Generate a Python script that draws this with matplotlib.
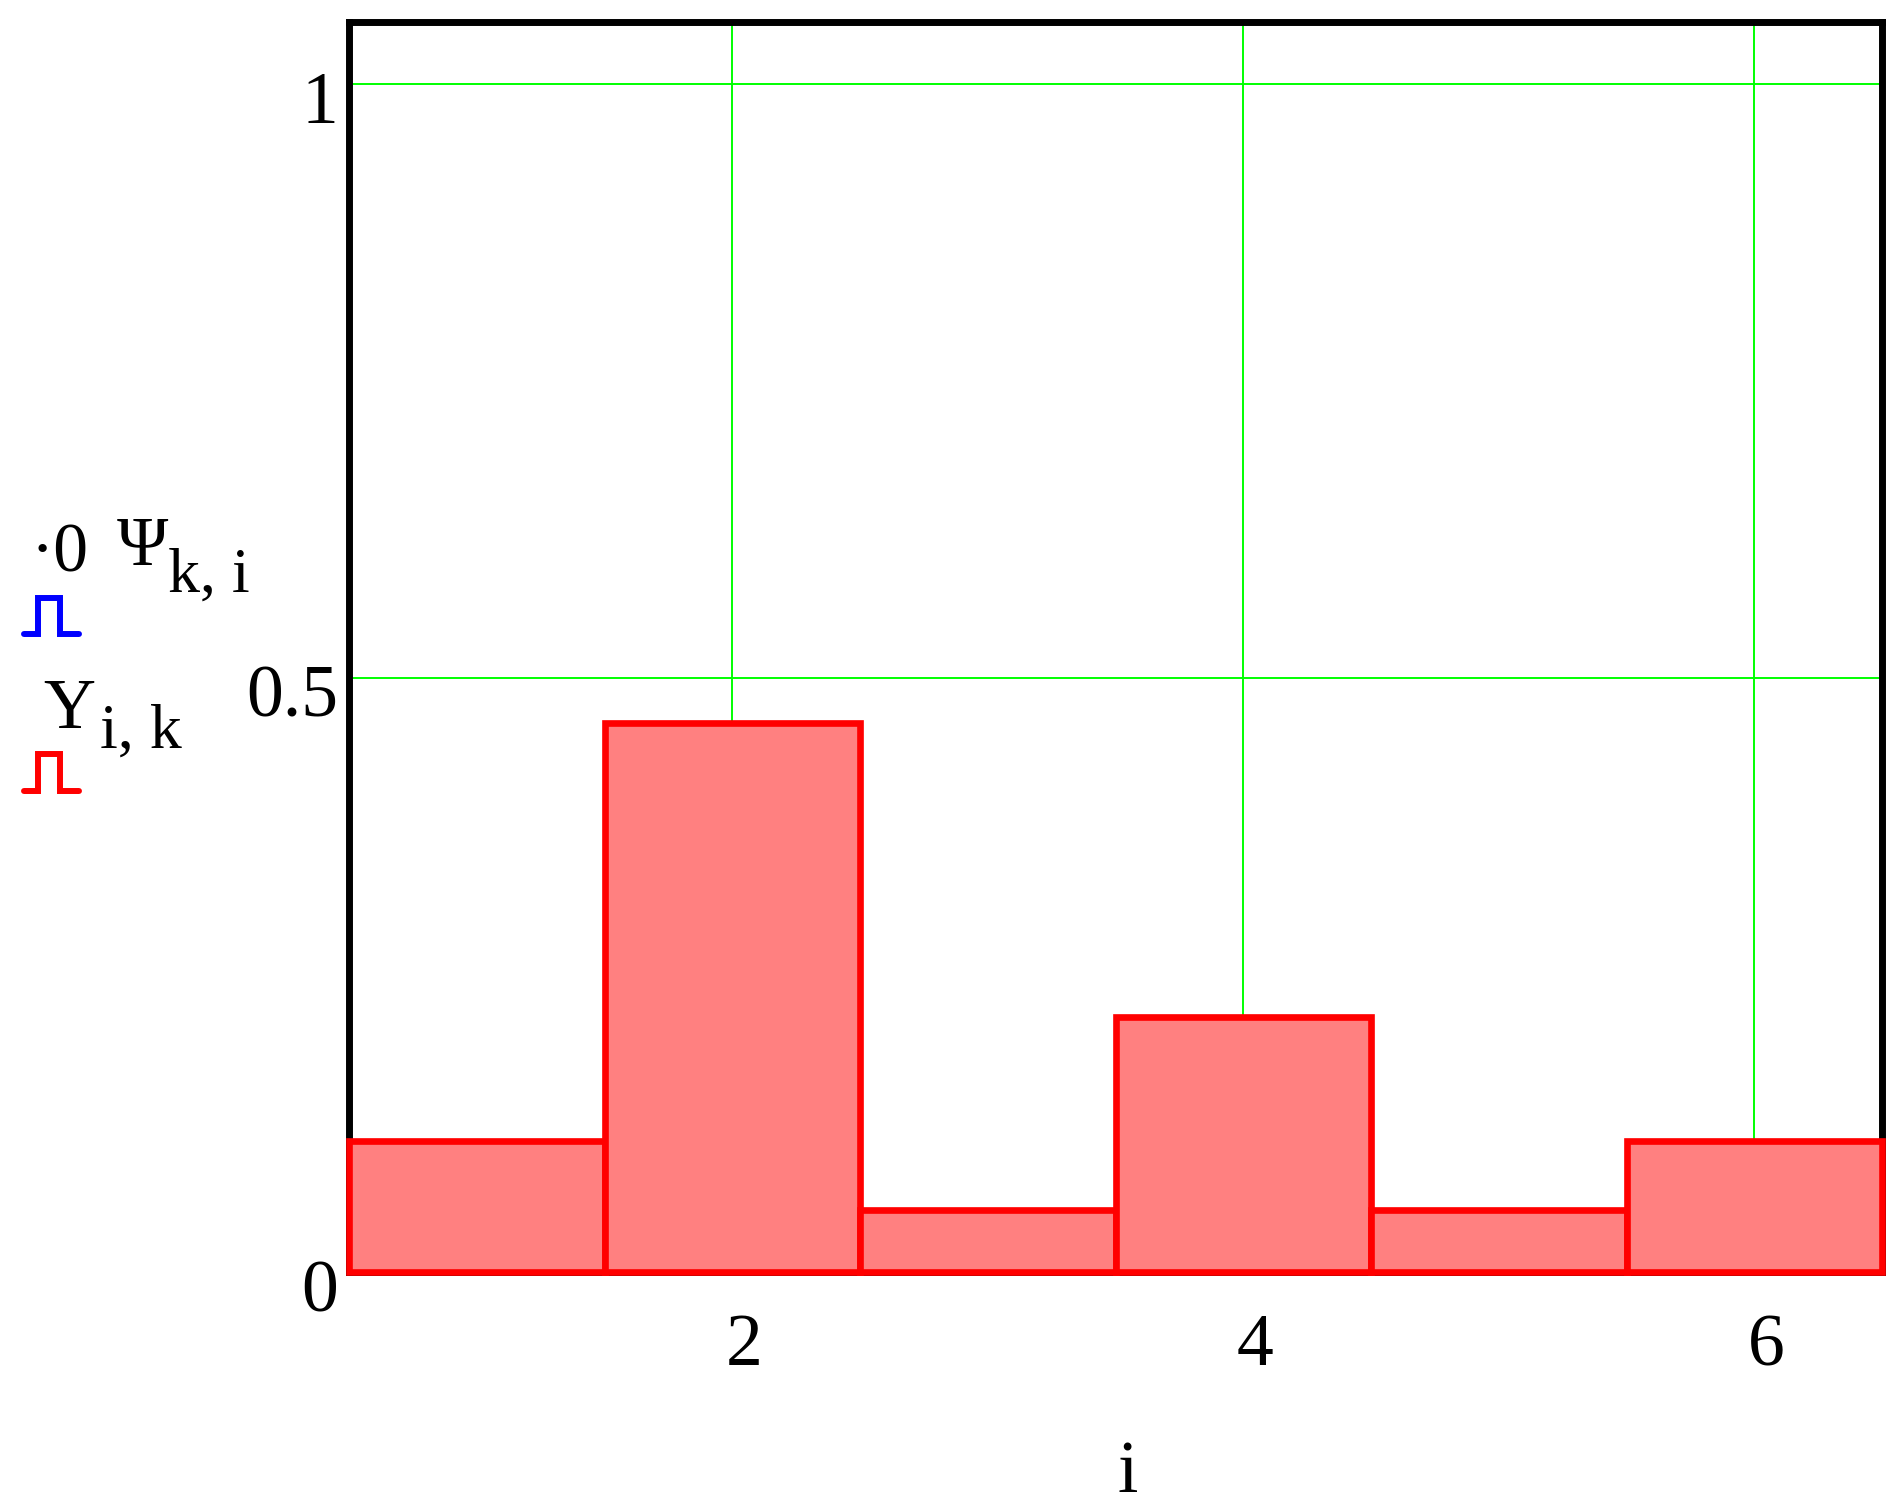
import matplotlib
matplotlib.use('Agg')
import matplotlib.pyplot as plt
from matplotlib.lines import Line2D
from matplotlib.transforms import ScaledTranslation

plt.rcParams['font.family'] = ['Liberation Serif', 'DejaVu Serif']

# data
i_vals = [1, 2, 3, 4, 5, 6]
Y_vals = [0.110, 0.462, 0.052, 0.215, 0.052, 0.110]
x_ticks = [2, 4, 6]
y_ticks = [0, 0.5, 1]
y_tick_labels = ['0', '0.5', '1']

W, H = 1902, 1507


def fx(px):
    return px / W


def fy(py):
    return 1 - py / H


fig = plt.figure(figsize=(W / 100, H / 100), dpi=100)
ax = fig.add_axes([fx(349), fy(1272), fx(1882) - fx(349), fy(21.5) - fy(1272)])

ax.bar(i_vals, Y_vals, width=1.0, color='#ff8080', edgecolor='#ff0000',
       linewidth=4.8, zorder=3, clip_on=False)
ax.set_xlim(0.5, 6.5)
ax.set_ylim(0, 1.0526)
ax.set_xticks(x_ticks)
ax.set_yticks(y_ticks)
ax.set_yticklabels(y_tick_labels)
ax.grid(True, color='#00ff00', linewidth=1.4)
ax.set_axisbelow(True)
for s in ax.spines.values():
    s.set_linewidth(5)
    s.set_color('black')

ax.tick_params(length=0, labelsize=53)
ax.tick_params(axis='x', pad=67)
ax.tick_params(axis='y', pad=8)

for lbl in ax.get_xticklabels():
    lbl.set_va('baseline')
    lbl.set_transform(lbl.get_transform() + ScaledTranslation(0.12, 0, fig.dpi_scale_trans))
for lbl in ax.get_yticklabels():
    lbl.set_va('baseline')
    lbl.set_transform(lbl.get_transform() + ScaledTranslation(0, -0.39, fig.dpi_scale_trans))

# axis title
fig.text(fx(1128), fy(1492), 'i', fontsize=53, ha='center', va='baseline')

# legend on the left, Mathcad style
fig.text(fx(30), fy(572), '·0', fontsize=50, va='baseline')
fig.text(fx(117), fy(565), 'Ψ', fontsize=50, va='baseline')
fig.text(fx(168), fy(592), 'k, i', fontsize=46, va='baseline')
fig.text(fx(43), fy(728), 'Y', fontsize=52, va='baseline')
fig.text(fx(100), fy(748), 'i, k', fontsize=46, va='baseline')


def bar_symbol(y_base, y_top, color):
    xs = [24, 38, 38, 60, 60, 79]
    ys = [y_base, y_base, y_top, y_top, y_base, y_base]
    fig.add_artist(Line2D([fx(x) for x in xs], [fy(y) for y in ys],
                          color=color, linewidth=4.3,
                          solid_capstyle='round', solid_joinstyle='miter'))


bar_symbol(634, 598, '#0000ff')
bar_symbol(791, 754, '#ff0000')

fig.savefig('out.png', dpi=100)
